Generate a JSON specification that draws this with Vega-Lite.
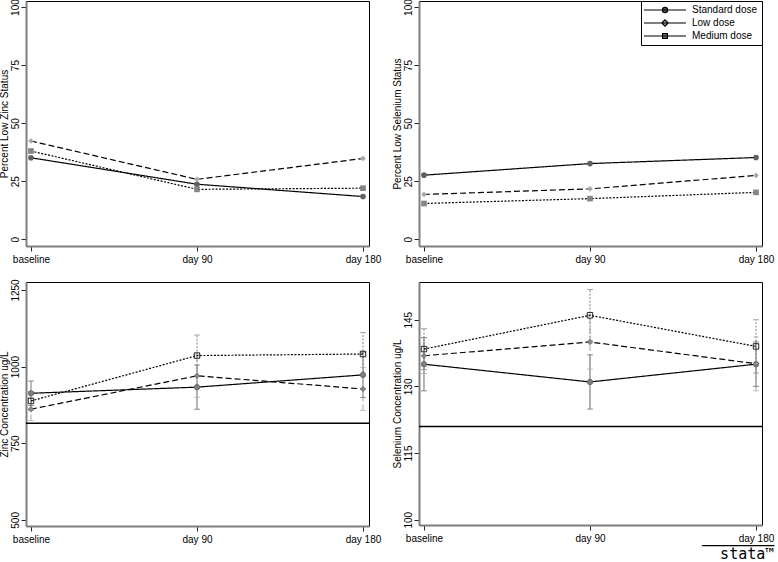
{
  "$schema": "https://vega.github.io/schema/vega-lite/v6.json",
  "background": "white",
  "padding": {"left": -2, "top": -2, "right": 0, "bottom": 0},
  "datasets": {
    "pct": [
      {"panel": "zinc", "group": "Standard dose", "day": 0, "value": 35.1},
      {"panel": "zinc", "group": "Standard dose", "day": 90, "value": 23.7},
      {"panel": "zinc", "group": "Standard dose", "day": 180, "value": 18.4},
      {"panel": "zinc", "group": "Low dose", "day": 0, "value": 42.3},
      {"panel": "zinc", "group": "Low dose", "day": 90, "value": 25.8},
      {"panel": "zinc", "group": "Low dose", "day": 180, "value": 34.8},
      {"panel": "zinc", "group": "Medium dose", "day": 0, "value": 38.0},
      {"panel": "zinc", "group": "Medium dose", "day": 90, "value": 21.5},
      {"panel": "zinc", "group": "Medium dose", "day": 180, "value": 22.0},
      {"panel": "selen", "group": "Standard dose", "day": 0, "value": 27.6},
      {"panel": "selen", "group": "Standard dose", "day": 90, "value": 32.6},
      {"panel": "selen", "group": "Standard dose", "day": 180, "value": 35.2},
      {"panel": "selen", "group": "Low dose", "day": 0, "value": 19.3},
      {"panel": "selen", "group": "Low dose", "day": 90, "value": 21.7},
      {"panel": "selen", "group": "Low dose", "day": 180, "value": 27.5},
      {"panel": "selen", "group": "Medium dose", "day": 0, "value": 15.4},
      {"panel": "selen", "group": "Medium dose", "day": 90, "value": 17.5},
      {"panel": "selen", "group": "Medium dose", "day": 180, "value": 20.2}
    ],
    "conc": [
      {"panel": "zinc", "group": "Standard dose", "day": 0, "mean": 913, "lo": 873, "hi": 953},
      {"panel": "zinc", "group": "Standard dose", "day": 90, "mean": 933, "lo": 861, "hi": 1005},
      {"panel": "zinc", "group": "Standard dose", "day": 180, "mean": 973, "lo": 899, "hi": 1047},
      {"panel": "zinc", "group": "Low dose", "day": 0, "mean": 861, "lo": 824, "hi": 898},
      {"panel": "zinc", "group": "Low dose", "day": 90, "mean": 970, "lo": 900, "hi": 1040},
      {"panel": "zinc", "group": "Low dose", "day": 180, "mean": 927, "lo": 857, "hi": 997},
      {"panel": "zinc", "group": "Medium dose", "day": 0, "mean": 888, "lo": 858, "hi": 918},
      {"panel": "zinc", "group": "Medium dose", "day": 90, "mean": 1036, "lo": 969, "hi": 1103},
      {"panel": "zinc", "group": "Medium dose", "day": 180, "mean": 1041, "lo": 971, "hi": 1111},
      {"panel": "selen", "group": "Standard dose", "day": 0, "mean": 135.0, "lo": 129.0, "hi": 141.0},
      {"panel": "selen", "group": "Standard dose", "day": 90, "mean": 131.0, "lo": 124.9, "hi": 137.1},
      {"panel": "selen", "group": "Standard dose", "day": 180, "mean": 135.0, "lo": 130.0, "hi": 140.0},
      {"panel": "selen", "group": "Low dose", "day": 0, "mean": 136.9, "lo": 132.9, "hi": 140.9},
      {"panel": "selen", "group": "Low dose", "day": 90, "mean": 140.0, "lo": 133.9, "hi": 146.1},
      {"panel": "selen", "group": "Low dose", "day": 180, "mean": 135.1, "lo": 129.0, "hi": 141.1},
      {"panel": "selen", "group": "Medium dose", "day": 0, "mean": 138.4, "lo": 133.8, "hi": 143.0},
      {"panel": "selen", "group": "Medium dose", "day": 90, "mean": 146.0, "lo": 140.2, "hi": 151.8},
      {"panel": "selen", "group": "Medium dose", "day": 180, "mean": 139.0, "lo": 133.0, "hi": 145.0}
    ],
    "ref": [
      {"panel": "zinc", "value": 815},
      {"panel": "selen", "value": 121}
    ]
  },
  "config": {
    "font": "Liberation Sans",
    "view": {"stroke": "black", "strokeWidth": 1},
    "axis": {
      "grid": false,
      "domainColor": "#7f7f7f",
      "domainWidth": 2,
      "tickColor": "#222222",
      "tickSize": 5,
      "tickWidth": 1,
      "labelFont": "Liberation Sans",
      "labelFontSize": 10,
      "labelColor": "black",
      "titleFont": "Liberation Sans",
      "titleFontSize": 10,
      "titleFontWeight": "normal",
      "titleColor": "black",
      "labelFlush": false,
      "labelOverlap": false,
      "zindex": 1
    },
    "axisX": {"labelPadding": 3},
    "axisY": {"labelAngle": 270, "labelAlign": "center", "labelBaseline": "alphabetic", "labelPadding": 3, "titlePadding": 1, "format": "d"}
  },
  "title": {
    "text": ["────────", "stata™"],
    "orient": "bottom",
    "anchor": "end",
    "font": "DejaVu Sans Mono",
    "fontSize": 15,
    "fontWeight": "normal",
    "lineHeight": 8.5,
    "offset": -6,
    "color": "black"
  },
  "spacing": 13,
  "vconcat": [
    {
      "bounds": "flush",
      "spacing": 50,
      "hconcat": [
        {
          "width": 343,
          "height": 245,
          "data": {"name": "pct"},
          "transform": [{"filter": "datum.panel === 'zinc'"}],
          "layer": [
            {
              "mark": {"type": "line", "color": "black", "strokeWidth": 1.2},
              "encoding": {
                "x": {"field": "day", "type": "quantitative", "scale": {"domain": [-2.7, 183.25], "nice": false, "zero": false}, "axis": {"values": [0, 90, 180], "labelExpr": "datum.value == 0 ? 'baseline' : datum.value == 90 ? 'day 90' : 'day 180'", "title": null}},
                "y": {"field": "value", "type": "quantitative", "scale": {"domain": [-2.9, 102.6], "nice": false, "zero": false}, "axis": {"values": [0, 25, 50, 75, 100], "title": "Percent Low Zinc Status"}},
                "strokeDash": {"field": "group", "type": "nominal", "scale": {"domain": ["Standard dose", "Low dose", "Medium dose"], "range": [[1, 0], [6, 3], [2, 1.5]]}, "legend": null}
              }
            },
            {
              "mark": {"type": "point", "filled": true, "opacity": 1},
              "encoding": {
                "x": {"field": "day", "type": "quantitative"},
                "y": {"field": "value", "type": "quantitative"},
                "shape": {"field": "group", "type": "nominal", "scale": {"domain": ["Standard dose", "Low dose", "Medium dose"], "range": ["circle", "diamond", "square"]}, "legend": null},
                "color": {"field": "group", "type": "nominal", "scale": {"domain": ["Standard dose", "Low dose", "Medium dose"], "range": ["#606060", "#a8a8a8", "#858585"]}, "legend": null},
                "size": {"value": 32}
              }
            }
          ]
        },
        {
          "width": 343,
          "height": 245,
          "layer": [
            {
              "data": {"name": "pct"},
              "transform": [{"filter": "datum.panel === 'selen'"}],
              "mark": {"type": "line", "color": "black", "strokeWidth": 1.2},
              "encoding": {
                "x": {"field": "day", "type": "quantitative", "scale": {"domain": [-2.7, 183.25], "nice": false, "zero": false}, "axis": {"values": [0, 90, 180], "labelExpr": "datum.value == 0 ? 'baseline' : datum.value == 90 ? 'day 90' : 'day 180'", "title": null}},
                "y": {"field": "value", "type": "quantitative", "scale": {"domain": [-2.9, 102.6], "nice": false, "zero": false}, "axis": {"values": [0, 25, 50, 75, 100], "title": "Percent Low Selenium Status"}},
                "strokeDash": {"field": "group", "type": "nominal", "scale": {"domain": ["Standard dose", "Low dose", "Medium dose"], "range": [[1, 0], [6, 3], [2, 1.5]]}, "legend": null}
              }
            },
            {
              "data": {"name": "pct"},
              "transform": [{"filter": "datum.panel === 'selen'"}],
              "mark": {"type": "point", "filled": true, "opacity": 1},
              "encoding": {
                "x": {"field": "day", "type": "quantitative"},
                "y": {"field": "value", "type": "quantitative"},
                "shape": {"field": "group", "type": "nominal", "scale": {"domain": ["Standard dose", "Low dose", "Medium dose"], "range": ["circle", "diamond", "square"]}, "legend": null},
                "color": {"field": "group", "type": "nominal", "scale": {"domain": ["Standard dose", "Low dose", "Medium dose"], "range": ["#606060", "#a8a8a8", "#858585"]}, "legend": null},
                "size": {"value": 32}
              }
            },
            {
              "data": {"name": "pct"},
              "transform": [{"filter": "false"}],
              "mark": {"type": "point", "filled": true, "opacity": 1},
              "encoding": {
                "x": {"field": "day", "type": "quantitative"},
                "y": {"field": "value", "type": "quantitative"},
                "shape": {
                  "field": "group", "type": "nominal",
                  "scale": {"domain": ["Standard dose", "Low dose", "Medium dose"], "range": [
                    "M-5.25,0H5.25M-0.65,0A0.65,0.65,0,1,0,0.65,0A0.65,0.65,0,1,0,-0.65,0Z",
                    "M-5.25,0H5.25M0,-0.8L0.8,0L0,0.8L-0.8,0Z",
                    "M-5.25,0H5.25M-0.6,-0.6H0.6V0.6H-0.6Z"
                  ]},
                  "legend": {
                    "title": null, "orient": "top-right", "offset": 0,
                    "strokeColor": "black", "fillColor": "white", "padding": 4,
                    "symbolSize": 64, "symbolOffset": 15, "labelOffset": 22,
                    "labelFontSize": 10, "labelFont": "Liberation Sans", "labelColor": "black",
                    "rowPadding": 2, "symbolStrokeWidth": 1.2, "symbolStrokeColor": "black",
                    "encode": {"symbols": {"update": {"stroke": {"value": "black"}, "strokeWidth": {"value": 1.2}, "fill": {"signal": "datum.value === 'Low dose' ? '#a8a8a8' : datum.value === 'Medium dose' ? '#858585' : '#606060'"}, "strokeDash": {"signal": "datum.value === 'Low dose' ? [6,3] : datum.value === 'Medium dose' ? [2,1.5] : [1,0]"}}}}
                  }
                },
                "color": {
                  "field": "group", "type": "nominal",
                  "scale": {"domain": ["Standard dose", "Low dose", "Medium dose"], "range": ["#606060", "#a8a8a8", "#858585"]},
                  "legend": {
                    "title": null, "orient": "top-right", "offset": 0,
                    "strokeColor": "black", "fillColor": "white", "padding": 4,
                    "symbolSize": 64, "symbolOffset": 15, "labelOffset": 22,
                    "labelFontSize": 10, "labelFont": "Liberation Sans", "labelColor": "black",
                    "rowPadding": 2, "symbolStrokeWidth": 1.2, "symbolStrokeColor": "black",
                    "encode": {"symbols": {"update": {"stroke": {"value": "black"}, "strokeWidth": {"value": 1.2}, "fill": {"signal": "datum.value === 'Low dose' ? '#a8a8a8' : datum.value === 'Medium dose' ? '#858585' : '#606060'"}, "strokeDash": {"signal": "datum.value === 'Low dose' ? [6,3] : datum.value === 'Medium dose' ? [2,1.5] : [1,0]"}}}}
                  }
                }
              }
            }
          ],
          "resolve": {"scale": {"shape": "independent", "color": "independent"}}
        }
      ]
    },
    {
      "bounds": "flush",
      "spacing": 50,
      "hconcat": [
        {
          "width": 343,
          "height": 244,
          "layer": [
            {
              "data": {"name": "ref"},
              "transform": [{"filter": "datum.panel === 'zinc'"}],
              "mark": {"type": "rule", "color": "black", "strokeWidth": 1.5},
              "encoding": {
                "y": {"field": "value", "type": "quantitative", "scale": {"domain": [480, 1276], "nice": false, "zero": false}, "axis": {"values": [500, 750, 1000, 1250], "title": "Zinc Concentration ug/L"}}
              }
            },
            {
              "data": {"name": "conc"},
              "transform": [{"filter": "datum.panel === 'zinc'"}],
              "mark": {"type": "rule", "strokeWidth": 1},
              "encoding": {
                "x": {"field": "day", "type": "quantitative", "scale": {"domain": [-2.7, 183.25], "nice": false, "zero": false}, "axis": {"values": [0, 90, 180], "labelExpr": "datum.value == 0 ? 'baseline' : datum.value == 90 ? 'day 90' : 'day 180'", "title": null}},
                "y": {"field": "lo", "type": "quantitative"},
                "y2": {"field": "hi"},
                "color": {"field": "group", "type": "nominal", "scale": {"domain": ["Standard dose", "Low dose", "Medium dose"], "range": ["#a5a5a5", "#404040", "#b8b8b8"]}, "legend": null},
                "strokeDash": {"field": "group", "type": "nominal", "scale": {"domain": ["Standard dose", "Low dose", "Medium dose"], "range": [[1, 0], [6, 3], [2, 1.5]]}, "legend": null}
              }
            },
            {
              "data": {"name": "conc"},
              "transform": [{"filter": "datum.panel === 'zinc'"}],
              "mark": {"type": "tick", "orient": "horizontal", "size": 6, "thickness": 1},
              "encoding": {
                "x": {"field": "day", "type": "quantitative"},
                "y": {"field": "lo", "type": "quantitative"},
                "color": {"field": "group", "type": "nominal", "legend": null}
              }
            },
            {
              "data": {"name": "conc"},
              "transform": [{"filter": "datum.panel === 'zinc'"}],
              "mark": {"type": "tick", "orient": "horizontal", "size": 6, "thickness": 1},
              "encoding": {
                "x": {"field": "day", "type": "quantitative"},
                "y": {"field": "hi", "type": "quantitative"},
                "color": {"field": "group", "type": "nominal", "legend": null}
              }
            },
            {
              "data": {"name": "conc"},
              "transform": [{"filter": "datum.panel === 'zinc'"}],
              "mark": {"type": "line", "color": "black", "strokeWidth": 1.2},
              "encoding": {
                "x": {"field": "day", "type": "quantitative"},
                "y": {"field": "mean", "type": "quantitative"},
                "strokeDash": {"field": "group", "type": "nominal", "legend": null}
              }
            },
            {
              "data": {"name": "conc"},
              "transform": [{"filter": "datum.panel === 'zinc'"}],
              "mark": {"type": "point", "strokeWidth": 1, "opacity": 1},
              "encoding": {
                "x": {"field": "day", "type": "quantitative"},
                "y": {"field": "mean", "type": "quantitative"},
                "shape": {"field": "group", "type": "nominal", "scale": {"domain": ["Standard dose", "Low dose", "Medium dose"], "range": ["circle", "square", "circle"]}, "legend": null},
                "fill": {"field": "group", "type": "nominal", "scale": {"domain": ["Standard dose", "Low dose", "Medium dose"], "range": ["#808080", "#8a8a8a", "rgba(255,255,255,0)"]}, "legend": null},
                "stroke": {"field": "group", "type": "nominal", "scale": {"domain": ["Standard dose", "Low dose", "Medium dose"], "range": ["#6a6a6a", "#777777", "#222222"]}, "legend": null},
                "size": {"field": "group", "type": "ordinal", "scale": {"domain": ["Standard dose", "Low dose", "Medium dose"], "range": [28, 30, 16]}, "legend": null}
              }
            }
          ]
        },
        {
          "width": 343,
          "height": 243,
          "layer": [
            {
              "data": {"name": "ref"},
              "transform": [{"filter": "datum.panel === 'selen'"}],
              "mark": {"type": "rule", "color": "black", "strokeWidth": 1.5},
              "encoding": {
                "y": {"field": "value", "type": "quantitative", "scale": {"domain": [98.8, 153.5], "nice": false, "zero": false}, "axis": {"values": [100, 115, 130, 145], "title": "Selenium Concentration ug/L"}}
              }
            },
            {
              "data": {"name": "conc"},
              "transform": [{"filter": "datum.panel === 'selen'"}],
              "mark": {"type": "rule", "strokeWidth": 1},
              "encoding": {
                "x": {"field": "day", "type": "quantitative", "scale": {"domain": [-2.7, 183.25], "nice": false, "zero": false}, "axis": {"values": [0, 90, 180], "labelExpr": "datum.value == 0 ? 'baseline' : datum.value == 90 ? 'day 90' : 'day 180'", "title": null}},
                "y": {"field": "lo", "type": "quantitative"},
                "y2": {"field": "hi"},
                "color": {"field": "group", "type": "nominal", "scale": {"domain": ["Standard dose", "Low dose", "Medium dose"], "range": ["#a5a5a5", "#404040", "#b8b8b8"]}, "legend": null},
                "strokeDash": {"field": "group", "type": "nominal", "scale": {"domain": ["Standard dose", "Low dose", "Medium dose"], "range": [[1, 0], [6, 3], [2, 1.5]]}, "legend": null}
              }
            },
            {
              "data": {"name": "conc"},
              "transform": [{"filter": "datum.panel === 'selen'"}],
              "mark": {"type": "tick", "orient": "horizontal", "size": 6, "thickness": 1},
              "encoding": {
                "x": {"field": "day", "type": "quantitative"},
                "y": {"field": "lo", "type": "quantitative"},
                "color": {"field": "group", "type": "nominal", "legend": null}
              }
            },
            {
              "data": {"name": "conc"},
              "transform": [{"filter": "datum.panel === 'selen'"}],
              "mark": {"type": "tick", "orient": "horizontal", "size": 6, "thickness": 1},
              "encoding": {
                "x": {"field": "day", "type": "quantitative"},
                "y": {"field": "hi", "type": "quantitative"},
                "color": {"field": "group", "type": "nominal", "legend": null}
              }
            },
            {
              "data": {"name": "conc"},
              "transform": [{"filter": "datum.panel === 'selen'"}],
              "mark": {"type": "line", "color": "black", "strokeWidth": 1.2},
              "encoding": {
                "x": {"field": "day", "type": "quantitative"},
                "y": {"field": "mean", "type": "quantitative"},
                "strokeDash": {"field": "group", "type": "nominal", "legend": null}
              }
            },
            {
              "data": {"name": "conc"},
              "transform": [{"filter": "datum.panel === 'selen'"}],
              "mark": {"type": "point", "strokeWidth": 1, "opacity": 1},
              "encoding": {
                "x": {"field": "day", "type": "quantitative"},
                "y": {"field": "mean", "type": "quantitative"},
                "shape": {"field": "group", "type": "nominal", "scale": {"domain": ["Standard dose", "Low dose", "Medium dose"], "range": ["circle", "square", "circle"]}, "legend": null},
                "fill": {"field": "group", "type": "nominal", "scale": {"domain": ["Standard dose", "Low dose", "Medium dose"], "range": ["#808080", "#8a8a8a", "rgba(255,255,255,0)"]}, "legend": null},
                "stroke": {"field": "group", "type": "nominal", "scale": {"domain": ["Standard dose", "Low dose", "Medium dose"], "range": ["#6a6a6a", "#777777", "#222222"]}, "legend": null},
                "size": {"field": "group", "type": "ordinal", "scale": {"domain": ["Standard dose", "Low dose", "Medium dose"], "range": [28, 30, 16]}, "legend": null}
              }
            }
          ]
        }
      ]
    }
  ]
}
